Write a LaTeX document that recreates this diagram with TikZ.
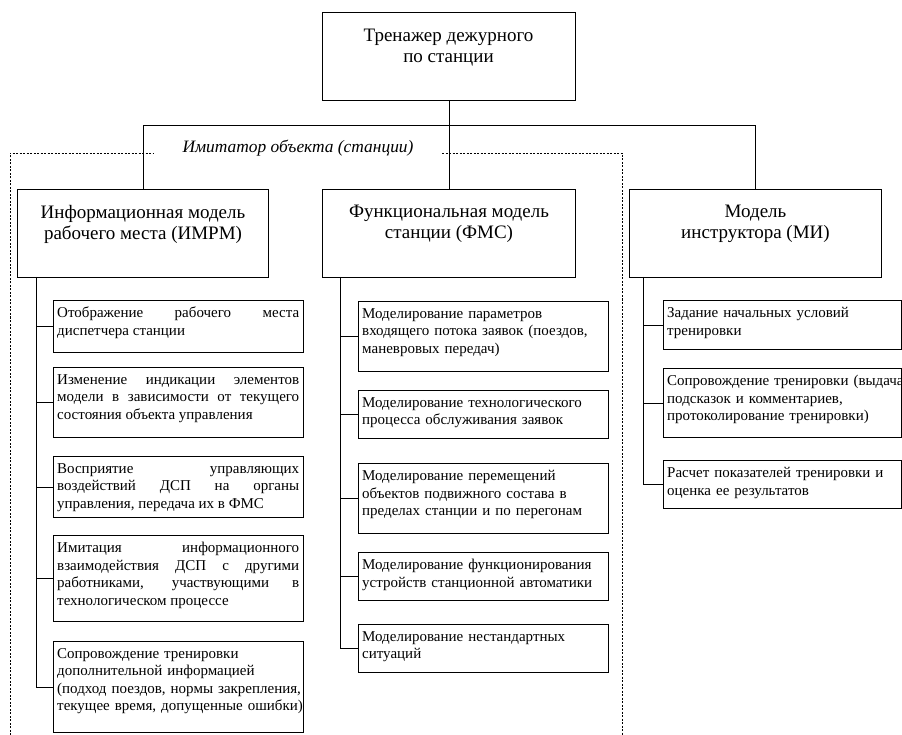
\documentclass[tikz,border=0pt]{standalone}
\usepackage{fontspec}
\setmainfont{Liberation Serif}
\usetikzlibrary{calc}
\tikzset{
  bx/.style={draw=black, line width=1pt, inner sep=0pt, anchor=north west},
  mtext/.style={anchor=north, align=center, inner sep=0pt, font=\fontsize{19}{21}\selectfont},
  itext/.style={anchor=north west, inner sep=0pt, font=\fontsize{15}{17.6}\selectfont},
  jt/.style={itext, align=justify},
  lt/.style={itext, align=left},
  ln/.style={line width=0.8pt, draw=black},
  frame/.style={line width=0.8pt, dash pattern=on 2pt off 1.5pt}
}
\begin{document}
\begin{tikzpicture}[x=1pt, y=-1pt]
\useasboundingbox (0,0) rectangle (902,735);
% dashed frame
\coordinate (dbl) at (10,735);
\coordinate (dtl) at (10,153);
\coordinate (dtr) at (622,153);
\coordinate (dbr) at (622,735);
\draw[frame] (dbl) -- (dtl) -- (153,153);
\draw[frame] (442,153) -- (dtr) -- (dbr);
\node[inner sep=0pt, font=\fontsize{17.4}{20}\selectfont\itshape] (lab) at (298,148) {Имитатор объекта (станции)};
% top box
\node[bx, minimum width=253pt, minimum height=88pt] (top) at (322,12) {};
\node[mtext] (topt) at (448.5,28.5) {Тренажер дежурного\\по станции};
% main boxes
\node[bx, minimum width=251pt, minimum height=88pt] (imrm) at (17,189) {};
\node[bx, minimum width=253pt, minimum height=88pt] (fms) at (322,189) {};
\node[bx, minimum width=252pt, minimum height=88pt] (mi) at (629,189) {};
\node[mtext] (imrmt) at ($(imrm.north)+(0,16)$) {Информационная модель\\рабочего места (ИМРМ)};
\node[mtext] (fmst) at ($(fms.north)+(0,16)$) {Функциональная модель\\станции (ФМС)};
\node[mtext] (mit) at ($(mi.north)+(0,16)$) {Модель\\инструктора (МИ)};
% bus
\coordinate (bus) at (448.5,125);
\draw[ln] (top.south) -- (fms.north);
\draw[ln] (imrm.north) -- (imrm.north |- bus) -- (mi.north |- bus) -- (mi.north);
% IMRM items
\node[bx, minimum width=250pt, minimum height=52pt] (i1) at (53,300) {};
\node[bx, minimum width=250pt, minimum height=70pt] (i2) at (53,367) {};
\node[bx, minimum width=250pt, minimum height=61pt] (i3) at (53,456) {};
\node[bx, minimum width=250pt, minimum height=86pt] (i4) at (53,535) {};
\node[bx, minimum width=250pt, minimum height=91pt] (i5) at (53,641) {};
\node[jt, text width=242pt] (i1t) at ($(i1.north west)+(4,7)$) {Отображение рабочего места\linebreak диспетчера станции};
\node[jt, text width=242pt] (i2t) at ($(i2.north west)+(4,7)$) {Изменение индикации элементов\linebreak модели в зависимости от текущего\linebreak состояния объекта управления};
\node[jt, text width=242pt] (i3t) at ($(i3.north west)+(4,7)$) {Восприятие управляющих\linebreak воздействий ДСП на органы\linebreak управления, передача их в ФМС};
\node[jt, text width=242pt] (i4t) at ($(i4.north west)+(4,7)$) {Имитация информационного\linebreak взаимодействия ДСП с другими\linebreak работниками, участвующими в\linebreak технологическом процессе};
\node[lt, text width=246pt] (i5t) at ($(i5.north west)+(4,7)$) {Сопровождение тренировки\\дополнительной информацией\\(подход поездов, нормы закрепления,\\текущее время, допущенные ошибки)};
\coordinate (ib) at (36,277);
\draw[ln] (ib) |- (i5.west);
\foreach \k in {1,...,4} {\draw[ln] (ib |- i\k.west) -- (i\k.west);}
% FMS items
\node[bx, minimum width=250pt, minimum height=70pt] (f1) at (358,301) {};
\node[bx, minimum width=250pt, minimum height=48pt] (f2) at (358,390) {};
\node[bx, minimum width=250pt, minimum height=70pt] (f3) at (358,463) {};
\node[bx, minimum width=250pt, minimum height=48pt] (f4) at (358,552) {};
\node[bx, minimum width=250pt, minimum height=48pt] (f5) at (358,624) {};
\node[lt, text width=244pt] (f1t) at ($(f1.north west)+(4,7)$) {Моделирование параметров\\входящего потока заявок (поездов,\\маневровых передач)};
\node[lt, text width=244pt] (f2t) at ($(f2.north west)+(4,7)$) {Моделирование технологического\\процесса обслуживания заявок};
\node[lt, text width=244pt] (f3t) at ($(f3.north west)+(4,7)$) {Моделирование перемещений\\объектов подвижного состава в\\пределах станции и по перегонам};
\node[lt, text width=244pt] (f4t) at ($(f4.north west)+(4,7)$) {Моделирование функционирования\\устройств станционной автоматики};
\node[lt, text width=244pt] (f5t) at ($(f5.north west)+(4,7)$) {Моделирование нестандартных\\ситуаций};
\coordinate (fb) at (340,277);
\draw[ln] (fb) |- (f5.west);
\foreach \k in {1,...,4} {\draw[ln] (fb |- f\k.west) -- (f\k.west);}
% MI items
\node[bx, minimum width=238pt, minimum height=49pt] (m1) at (663,300) {};
\node[bx, minimum width=238pt, minimum height=69pt] (m2) at (663,368) {};
\node[bx, minimum width=238pt, minimum height=48pt] (m3) at (663,460) {};
\node[lt, text width=260pt] (m1t) at ($(m1.north west)+(4,7)$) {Задание начальных условий\\тренировки};
\node[lt, text width=260pt] (m2t) at ($(m2.north west)+(4,7)$) {Сопровождение тренировки (выдача\\подсказок и комментариев,\\протоколирование тренировки)};
\node[lt, text width=260pt] (m3t) at ($(m3.north west)+(4,7)$) {Расчет показателей тренировки и\\оценка ее результатов};
\coordinate (mb) at (643,277);
\draw[ln] (mb) |- (m3.west);
\foreach \k in {1,2} {\draw[ln] (mb |- m\k.west) -- (m\k.west);}
\end{tikzpicture}
\end{document}
